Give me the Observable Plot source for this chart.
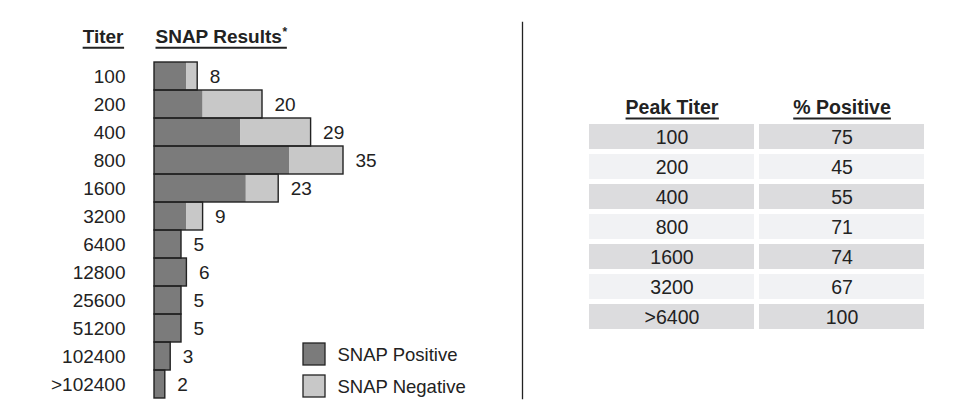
<!DOCTYPE html>
<html><head><meta charset="utf-8">
<script src="https://cdn.jsdelivr.net/npm/d3@7"></script>
<script src="https://cdn.jsdelivr.net/npm/@observablehq/plot@0.6"></script>
<style>
body{margin:0;background:#fff;}
#chart{position:relative;width:964px;height:401px;overflow:hidden;background:#fff;}
#chart svg{position:absolute;left:0;top:0;}
</style></head><body><div id="chart"></div>
<script>
// ---- data ----
const titers = ["100","200","400","800","1600","3200","6400","12800","25600","51200","102400",">102400"];
const snapPositive = [6,9,16,25,17,6,5,6,5,5,3,2];
const snapNegative = [2,11,13,10,6,3,0,0,0,0,0,0];
const statusLabels = ["SNAP Positive","SNAP Negative"];
const statusColors = ["#7b7b7b","#c8c8c8"];
const peakTiters = ["100","200","400","800","1600","3200",">6400"];
const pctPositive = [75,45,55,71,74,67,100];
const tableColumns = ["Peak Titer","% Positive"];
const barHeaders = ["Titer","SNAP Results"];

const FONT = "'Liberation Sans', Arial, Helvetica, sans-serif";
const INK = "#222";
const chart = document.getElementById("chart");

const long = [];
titers.forEach((t,i)=>{
  long.push({titer:t,status:statusLabels[0],count:snapPositive[i]});
  long.push({titer:t,status:statusLabels[1],count:snapNegative[i]});
});
const totals = titers.map((t,i)=>({titer:t,total:snapPositive[i]+snapNegative[i]}));

const bars = Plot.plot({
  width:524, height:401,
  marginLeft:154, marginRight:2, marginTop:22, marginBottom:3,
  style:{fontFamily:FONT, fontSize:"19px", color:INK, background:"transparent", overflow:"visible"},
  x:{domain:[0,60], range:[154,154+5.4*60], axis:null},
  y:{domain:titers, range:[59,400], padding:0, label:null},
  color:{domain:statusLabels, range:statusColors},
  marks:[
    Plot.barX(long,{y:"titer", x:"count", fill:"status", order:statusLabels}),
    Plot.barX(totals,{y:"titer", x:"total", fill:"none", stroke:INK, strokeWidth:1.4}),
    Plot.text(totals,{y:"titer", x:"total", text:d=>String(d.total), dx:12, textAnchor:"start", fontSize:19, fill:INK}),
    Plot.axisY({label:null, tickSize:0, tickPadding:29, fontSize:19, fill:INK}),
    Plot.text([barHeaders[0]],{text:d=>d, frameAnchor:"top-left", dx:-31, dy:7, textAnchor:"end", fontWeight:"bold", fontSize:19, fill:INK}),
    Plot.text([barHeaders[1]],{text:d=>d, frameAnchor:"top-left", dx:1, dy:7, textAnchor:"start", fontWeight:"bold", fontSize:19, fill:INK}),
    Plot.text(["*"],{text:d=>d, frameAnchor:"top-left", dx:128, dy:5, textAnchor:"start", fontWeight:"bold", fontSize:12, fill:INK}),
    Plot.frame({anchor:"right", stroke:INK, strokeWidth:1.3})
  ]
});
chart.appendChild(bars);

const legend = Plot.plot({
  width:522, height:401, margin:0,
  style:{fontFamily:FONT, fontSize:"18px", color:INK, background:"transparent", overflow:"visible"},
  x:{type:"band", domain:["swatch"], range:[302.7,325], padding:0, axis:null},
  y:{domain:statusLabels, range:[343,398], paddingInner:0.308, paddingOuter:0, axis:null},
  color:{domain:statusLabels, range:statusColors},
  marks:[
    Plot.cell(statusLabels,{x:()=>"swatch", y:d=>d, fill:d=>d, stroke:INK, strokeWidth:1.3, inset:0}),
    Plot.text(statusLabels,{x:()=>"swatch", y:d=>d, text:d=>d, dx:23, dy:1, textAnchor:"start", fontSize:18.5, fill:INK})
  ]
});
chart.appendChild(legend);

const tableData = [];
peakTiters.forEach((t,i)=>{
  tableData.push({row:t, col:tableColumns[0], value:t, i});
  tableData.push({row:t, col:tableColumns[1], value:String(pctPositive[i]), i});
});

const table = Plot.plot({
  width:964, height:401, margin:0,
  style:{fontFamily:FONT, fontSize:"19px", color:INK, background:"transparent", overflow:"visible"},
  x:{type:"band", domain:tableColumns, range:[588,924], paddingInner:0.03, paddingOuter:0, axis:null},
  y:{domain:peakTiters, range:[121,331], paddingInner:0.17, paddingOuter:0, axis:null},
  marks:[
    Plot.cell(tableData,{x:"col", y:"row", fill:d=>d.i%2 ? "#f1f2f4" : "#dcdcde", inset:0}),
    Plot.text(tableData,{x:"col", y:"row", text:"value", fontSize:19.5, fill:INK, dy:1}),
    Plot.text(tableColumns,{x:d=>d, text:d=>d, frameAnchor:"top", dy:100, fontWeight:"bold", fontSize:19.5, fill:INK})
  ]
});
chart.appendChild(table);

// underline header texts (SVG line under each text's bounding box)
function underline(svg, labels, extend){
  d3.select(svg).selectAll("text").filter(function(){ return labels.includes(this.textContent); }).each(function(){
    const b = this.getBBox();
    const fs = parseFloat(getComputedStyle(this).fontSize);
    const y = b.y + 0.905*fs + 4.5;
    const ext = (extend && extend[this.textContent]) || 0;
    const line = document.createElementNS("http://www.w3.org/2000/svg","line");
    line.setAttribute("x1", b.x); line.setAttribute("x2", b.x + b.width + ext);
    line.setAttribute("y1", y); line.setAttribute("y2", y);
    const tr = this.getAttribute("transform"); if (tr) line.setAttribute("transform", tr);
    line.setAttribute("stroke", INK); line.setAttribute("stroke-width", 2);
    this.parentNode.appendChild(line);
  });
}
underline(bars, barHeaders, {"SNAP Results":5});
underline(table, tableColumns);
</script></body></html>
